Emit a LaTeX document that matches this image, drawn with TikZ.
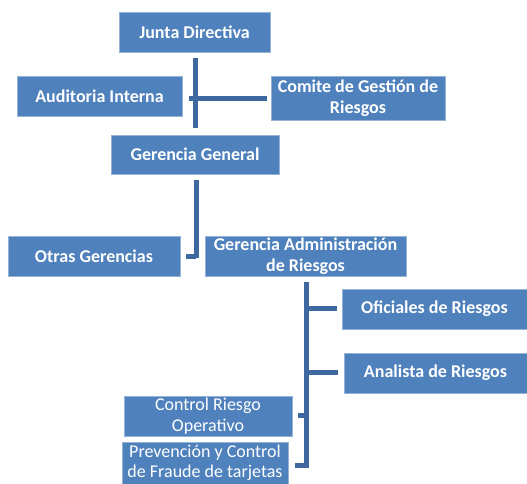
\documentclass[tikz,border=0pt]{standalone}
\usepackage{fontspec}
\setmainfont{Carlito}
\usepackage{tikz}
\usetikzlibrary{positioning}
\definecolor{boxblue}{RGB}{79,129,189}
\definecolor{lineblue}{RGB}{62,104,158}

\begin{document}
\begin{tikzpicture}[x=1pt,y=-1pt,
	box/.style={fill=boxblue, draw=boxblue!60!white, line width=0.6pt, text=white, align=center, inner sep=0pt,
		font=\fontsize{18}{21.5}\selectfont\bfseries},
	plainbox/.style={box, font=\fontsize{18}{21.5}\selectfont},
	link/.style={draw=lineblue, line width=5pt}]
		\useasboundingbox (0,0) rectangle (527,483);

		\draw (194.5,32) node [box, minimum width=151pt, minimum height=40pt] (jd) {Junta Directiva};
		\draw (99.5,96) node [box, minimum width=165pt, minimum height=40pt] (ai) {Auditoria Interna};
		\draw (358,98) node [box, minimum width=174pt, minimum height=44pt] (cg) {Comite de Gestión de\\Riesgos};
		\draw (195,154.5) node [box, minimum width=168pt, minimum height=39pt] (gg) {Gerencia General};
		\draw (94,256) node [box, minimum width=172pt, minimum height=40pt] (og) {Otras Gerencias};
		\draw (305.5,256) node [box, minimum width=201pt, minimum height=40pt] (ga) {Gerencia Administración\\de Riesgos};
		\draw (434.5,309) node [box, minimum width=185pt, minimum height=40pt] (of) {Oficiales de Riesgos};
		\draw (435.5,373) node [box, minimum width=183pt, minimum height=40pt] (an) {Analista de Riesgos};
		\draw (208,416) node [plainbox, minimum width=168pt, minimum height=40pt] (cr) {Control Riesgo\\Operativo};
		\draw (205,463) node [plainbox, font=\fontsize{18}{20}\selectfont, minimum width=166pt, minimum height=42pt] (pc) {Prevención y Control\\de Fraude de tarjetas};

		% junta
		\coordinate (jd-a) at (195.5,58);
		\coordinate (jd-b) at (195.5,128);
		\coordinate (ai-s) at (189,98);
		\coordinate (cg-s) at (267,98);
		% gerencia general
		\coordinate (gg-a) at (196,180);
		\coordinate (gg-b) at (196,258);
		\coordinate (og-s) at (186,256);
		% gerencia administracion
		\coordinate (ga-a) at (306,282);
		\coordinate (ga-b) at (306,465.5);
		\coordinate (of-s) at (337,308);
		\coordinate (an-s) at (338,372);
		\coordinate (cr-s) at (298,415);
		\coordinate (pc-s) at (295,465.5);

		\draw [link]
			(jd-a) -- (jd-b)
			(ai-s) -- (cg-s)
			(gg-a) -- (gg-b)
			(og-s) -- (gg-b |- og-s)
			(ga-a) -- (ga-b) -- (pc-s)
			(ga-a |- of-s) -- (of-s)
			(ga-a |- an-s) -- (an-s)
			(cr-s) -- (ga-a |- cr-s)
		;
	\end{tikzpicture}
\end{document}
